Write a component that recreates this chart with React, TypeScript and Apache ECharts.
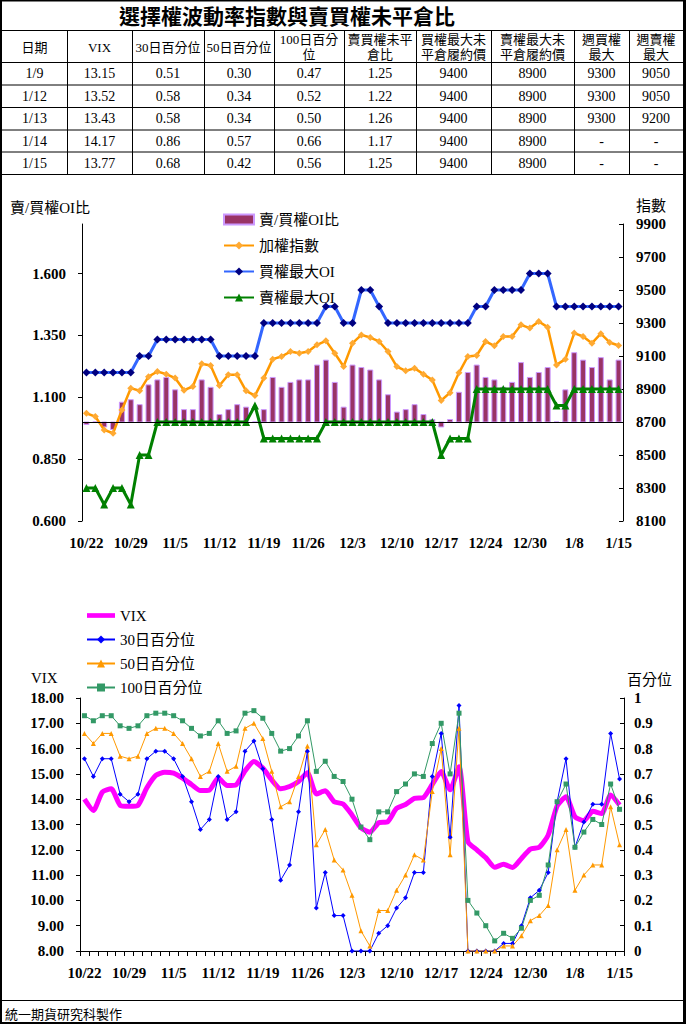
import React, { useEffect, useRef } from 'react';
import * as echarts from 'echarts';

// ---------- data ----------
const dates = ['10/22','10/23','10/24','10/27','10/28','10/29','10/30','10/31','11/3','11/4','11/5','11/6','11/7','11/10','11/11','11/12','11/13','11/14','11/17','11/18','11/19','11/20','11/21','11/24','11/25','11/26','11/27','11/28','12/1','12/2','12/3','12/4','12/5','12/8','12/9','12/10','12/11','12/12','12/15','12/16','12/17','12/18','12/19','12/22','12/23','12/24','12/25','12/26','12/27','12/29','12/30','12/31','1/5','1/6','1/7','1/8','1/9','1/12','1/13','1/14','1/15'];

const putCallRatio = [0.99,1.00,0.98,0.97,1.08,1.09,1.07,1.15,1.17,1.18, 1.13,1.05,1.05,1.17,1.14,1.03,1.05,1.07,1.06,1.00, 1.05,1.18,1.14,1.16,1.17,1.17,1.23,1.25,1.16,1.06, 1.23,1.22,1.21,1.17,1.11,1.04,1.05,1.07,1.03,1.01, 0.98,1.01,1.12,1.20,1.23,1.18,1.17,1.14,1.16,1.24, 1.18,1.20,1.22,1.00,1.13,1.28,1.25,1.22,1.26,1.17, 1.25];
const taiex = [8753,8733,8652,8632,8773,8905,8889,8975,9006,8990, 8966,8893,8915,9053,9042,8921,8986,8986,8889,8860, 8966,9081,9097,9127,9117,9127,9168,9192,9117,9036, 9178,9228,9212,9188,9127,9036,9010,9026,8990,8955, 8830,8878,8998,9097,9103,9188,9162,9218,9218,9289, 9269,9309,9275,9046,9081,9239,9218,9178,9235,9182, 9164];
const callMaxOI = [9000,9000,9000,9000,9000,9000,9100,9100,9200,9200, 9200,9200,9200,9200,9200,9100,9100,9100,9100,9100, 9300,9300,9300,9300,9300,9300,9300,9400,9400,9300, 9300,9500,9500,9400,9300,9300,9300,9300,9300,9300, 9300,9300,9300,9300,9400,9400,9500,9500,9500,9500, 9600,9600,9600,9400,9400,9400,9400,9400,9400,9400, 9400];
const putMaxOI = [8300,8300,8200,8300,8300,8200,8500,8500,8700,8700, 8700,8700,8700,8700,8700,8700,8700,8700,8700,8800, 8600,8600,8600,8600,8600,8600,8600,8700,8700,8700, 8700,8700,8700,8700,8700,8700,8700,8700,8700,8700, 8500,8600,8600,8600,8900,8900,8900,8900,8900,8900, 8900,8900,8900,8800,8800,8900,8900,8900,8900,8900, 8900];

const vix = [14.00,13.55,14.28,14.41,13.76,13.72,13.76,14.45,14.94,15.07, 15.03,14.83,14.58,14.34,14.36,14.84,14.54,14.57,15.12,15.49, 15.23,14.76,14.41,14.50,14.70,15.05,14.21,14.33,13.90,13.81, 13.38,12.87,12.69,13.07,13.11,13.64,13.79,14.03,14.06,14.58, 15.09,14.37,15.28,12.32,12.00,11.69,11.31,11.43,11.30,11.66, 12.03,12.10,12.58,13.73,14.10,13.31,13.15,13.52,13.43,14.17, 13.77];
const pct30 = [0.76,0.69,0.76,0.76,0.62,0.59,0.62,0.76,0.79,0.79, 0.76,0.69,0.59,0.48,0.52,0.69,0.52,0.55,0.79,0.83, 0.72,0.52,0.28,0.34,0.55,0.79,0.17,0.31,0.14,0.14, 0.00,0.00,0.00,0.07,0.10,0.17,0.21,0.31,0.31,0.69, 0.86,0.45,0.97,0.00,0.00,0.00,0.00,0.03,0.03,0.10, 0.21,0.24,0.31,0.59,0.76,0.41,0.51,0.58,0.58,0.86, 0.68];
const pct50 = [0.86,0.82,0.86,0.86,0.77,0.76,0.77,0.86,0.88,0.88, 0.86,0.82,0.76,0.69,0.71,0.82,0.71,0.73,0.88,0.90, 0.84,0.71,0.57,0.59,0.69,0.81,0.42,0.48,0.36,0.32, 0.22,0.08,0.02,0.16,0.16,0.24,0.30,0.38,0.36,0.63, 0.80,0.38,0.88,0.00,0.00,0.00,0.00,0.02,0.02,0.06, 0.12,0.14,0.18,0.40,0.48,0.24,0.30,0.34,0.34,0.57, 0.42];
const pct100 = [0.93,0.91,0.93,0.93,0.89,0.88,0.89,0.93,0.94,0.94, 0.93,0.91,0.88,0.85,0.86,0.91,0.86,0.87,0.94,0.95, 0.92,0.86,0.79,0.80,0.85,0.91,0.71,0.75,0.69,0.67, 0.60,0.49,0.44,0.55,0.55,0.63,0.66,0.70,0.69,0.82, 0.90,0.70,0.94,0.20,0.15,0.10,0.04,0.07,0.05,0.09, 0.20,0.22,0.34,0.59,0.66,0.41,0.47,0.52,0.50,0.66, 0.56];

const ratioTicks = [0.6, 0.85, 1.1, 1.35, 1.6];
const ratioBase = 1.0;

// table
const tableTitle = '選擇權波動率指數與賣買權未平倉比';
const tableHeaders = ['日期','VIX','30日百分位','50日百分位','100日百分\n位','賣買權未平\n倉比','買權最大未\n平倉履約價','賣權最大未\n平倉履約價','週買權\n最大','週賣權\n最大'];
const tableDates = ['1/9','1/12','1/13','1/14','1/15'];
const tableVix = ['13.15','13.52','13.43','14.17','13.77'];
const table30 = ['0.51','0.58','0.58','0.86','0.68'];
const table50 = ['0.30','0.34','0.34','0.57','0.42'];
const table100 = ['0.47','0.52','0.50','0.66','0.56'];
const tablePcr = ['1.25','1.22','1.26','1.17','1.25'];
const tableCallStrike = ['9400','9400','9400','9400','9400'];
const tablePutStrike = ['8900','8900','8900','8900','8900'];
const tableWeeklyCall = ['9300','9300','9300','-','-'];
const tableWeeklyPut = ['9050','9050','9200','-','-'];
const footerText = '統一期貨研究科製作';

const SERIF = "'Liberation Serif', 'Times New Roman', 'Noto Sans CJK TC', serif";

function buildOption(): any {
  const colX = [2, 67, 132, 204, 274, 344, 416, 491, 574, 629, 683];
  const rowY = [0, 30, 62, 84.5, 107, 129.5, 151.5, 174];
  const g: any[] = [];
  for (let i = 1; i < rowY.length; i++) {
    g.push({ type: 'line', silent: true, shape: { x1: 2, y1: rowY[i] + 0.5, x2: 683, y2: rowY[i] + 0.5 }, style: { stroke: '#000', lineWidth: 1 } });
  }
  for (let c = 1; c < colX.length - 1; c++) {
    g.push({ type: 'line', silent: true, shape: { x1: colX[c] + 0.5, y1: rowY[1], x2: colX[c] + 0.5, y2: rowY[rowY.length - 1] }, style: { stroke: '#000', lineWidth: 1 } });
  }
  g.push({ type: 'text', silent: true, x: 287, y: 15, style: { text: tableTitle, fill: '#000', fontSize: 21, fontWeight: 'bold', fontFamily: "'Noto Sans CJK TC', sans-serif", align: 'center', verticalAlign: 'middle' } });
  const cols = [tableDates, tableVix, table30, table50, table100, tablePcr, tableCallStrike, tablePutStrike, tableWeeklyCall, tableWeeklyPut];
  for (let c = 0; c < tableHeaders.length; c++) {
    const cx = (colX[c] + colX[c + 1]) / 2;
    g.push({ type: 'text', silent: true, x: cx, y: 47, style: { text: tableHeaders[c], fill: '#000', fontSize: 13, lineHeight: 15, fontFamily: SERIF, align: 'center', verticalAlign: 'middle' } });
    cols[c].forEach((t, r) => {
      const cy = (rowY[2 + r] + rowY[3 + r]) / 2 + 0.5;
      g.push({ type: 'text', silent: true, x: cx, y: cy, style: { text: t, fill: '#000', fontSize: 14, fontFamily: SERIF, align: 'center', verticalAlign: 'middle' } });
    });
  }
  const axisTitle = (text: string, x: number, y: number) => ({ type: 'text', silent: true, x, y, style: { text, fill: '#000', fontSize: 15, fontFamily: SERIF, align: 'left', verticalAlign: 'middle' } });
  g.push(axisTitle('賣/買權OI比', 10, 208));
  g.push(axisTitle('指數', 636, 206));
  g.push(axisTitle('VIX', 31, 678));
  g.push(axisTitle('百分位', 627, 680));
  g.push({ type: 'line', silent: true, shape: { x1: 2, y1: 1000.5, x2: 683, y2: 1000.5 }, style: { stroke: '#000', lineWidth: 1 } });
  g.push({ type: 'text', silent: true, x: 5, y: 1013, style: { text: footerText, fill: '#000', fontSize: 13, fontFamily: "'Noto Sans CJK TC', sans-serif", align: 'left', verticalAlign: 'middle' } });
  g.push({ type: 'rect', silent: true, z: 100, shape: { x: 0, y: 0, width: 2, height: 1024 }, style: { fill: '#000' } });
  g.push({ type: 'rect', silent: true, z: 100, shape: { x: 683, y: 0, width: 3, height: 1024 }, style: { fill: '#000' } });
  g.push({ type: 'rect', silent: true, z: 100, shape: { x: 0, y: 0, width: 686, height: 1.5 }, style: { fill: '#000' } });
  g.push({ type: 'rect', silent: true, z: 100, shape: { x: 0, y: 1022, width: 686, height: 2 }, style: { fill: '#000' } });

  const labelStyle = { color: '#000', fontSize: 15, fontWeight: 'bold', fontFamily: SERIF };
  const axisLine = { show: true, lineStyle: { color: '#000', width: 1 } };

  return {
    animation: false,
    backgroundColor: '#fff',
    graphic: { elements: g },
    legend: [
      {
        orient: 'vertical', left: 223, top: 212, padding: 0, itemWidth: 30, itemHeight: 10, itemGap: 11,
        textStyle: { color: '#000', fontSize: 15, lineHeight: 15, fontFamily: SERIF },
        data: [{ name: '賣/買權OI比', icon: 'rect' }, '加權指數', '買權最大OI', '賣權最大OI'],
      },
      {
        orient: 'vertical', left: 86, top: 608, padding: 0, itemWidth: 28, itemHeight: 10, itemGap: 9,
        textStyle: { color: '#000', fontSize: 15, lineHeight: 15, fontFamily: SERIF },
        data: [{ name: 'VIX', icon: 'path://M0,0 L30,0 L30,5 L0,5 Z' }, '30日百分位', '50日百分位', '100日百分位'],
      },
    ],
    grid: [
      { left: 82, top: 224, width: 541, height: 297 },
      { left: 80, top: 698, width: 544, height: 253 },
    ],
    xAxis: [
      {
        gridIndex: 0, type: 'category', data: dates, boundaryGap: true,
        axisLine: { show: false }, axisTick: { show: false },
        axisLabel: { ...labelStyle, interval: 4, margin: 14 },
      },
      {
        gridIndex: 1, type: 'category', data: dates, boundaryGap: true,
        axisLine, axisTick: { show: true, interval: 0, length: 5, lineStyle: { color: '#000' } },
        axisLabel: { ...labelStyle, interval: 4, margin: 14 },
      },
    ],
    yAxis: [
      {
        gridIndex: 0, type: 'value', position: 'left', min: 0.6, max: 1.8,
        axisLine, splitLine: { show: false },
        axisTick: { show: true, length: 4, customValues: ratioTicks, lineStyle: { color: '#000' } },
        axisLabel: { ...labelStyle, margin: 16, customValues: ratioTicks, formatter: (v: number) => v.toFixed(3) },
      },
      {
        gridIndex: 0, type: 'value', position: 'right', min: 8100, max: 9900, interval: 200,
        axisLine, splitLine: { show: false },
        axisTick: { show: true, inside: true, length: 4, lineStyle: { color: '#000' } },
        axisLabel: { ...labelStyle, margin: 13, formatter: (v: number) => String(v) },
      },
      {
        gridIndex: 1, type: 'value', position: 'left', min: 8, max: 18, interval: 1,
        axisLine, splitLine: { show: false },
        axisTick: { show: true, length: 4, lineStyle: { color: '#000' } },
        axisLabel: { ...labelStyle, margin: 16, formatter: (v: number) => v.toFixed(2) },
      },
      {
        gridIndex: 1, type: 'value', position: 'right', min: 0, max: 1, interval: 0.1,
        axisLine, splitLine: { show: false },
        axisTick: { show: true, inside: true, length: 4, lineStyle: { color: '#000' } },
        axisLabel: { ...labelStyle, margin: 10, formatter: (v: number) => String(Number(v.toFixed(1))) },
      },
    ],
    series: [
      {
        name: '賣/買權OI比', type: 'custom', xAxisIndex: 0, yAxisIndex: 0,
        itemStyle: { color: '#993366', borderColor: '#cc99ff', borderWidth: 1 },
        encode: { x: 0, y: 1 },
        data: putCallRatio.map((v, i) => [i, v]),
        renderItem: (params: any, api: any) => {
          const idx = api.value(0);
          const v = api.value(1);
          const base = api.coord([idx, ratioBase]);
          const top = api.coord([idx, v]);
          const w = 5;
          return {
            type: 'rect',
            shape: { x: base[0] - w / 2, y: Math.min(base[1], top[1]), width: w, height: Math.abs(top[1] - base[1]) },
            style: { fill: '#993366', stroke: '#cc99ff', lineWidth: 1 },
          };
        },
      },
      {
        name: '加權指數', type: 'line', xAxisIndex: 0, yAxisIndex: 1, data: taiex,
        showAllSymbol: true, symbol: 'diamond', symbolSize: 7,
        lineStyle: { color: '#ff9900', width: 2.5 }, itemStyle: { color: '#ffaa33' },
      },
      {
        name: '買權最大OI', type: 'line', xAxisIndex: 0, yAxisIndex: 1, data: callMaxOI,
        showAllSymbol: true, symbol: 'diamond', symbolSize: 8,
        lineStyle: { color: '#3366ff', width: 3 }, itemStyle: { color: '#000080' },
      },
      {
        name: '賣權最大OI', type: 'line', xAxisIndex: 0, yAxisIndex: 1, data: putMaxOI,
        showAllSymbol: true, symbol: 'triangle', symbolSize: 8,
        lineStyle: { color: '#008000', width: 3 }, itemStyle: { color: '#008000' },
        markLine: {
          silent: true, symbol: 'none', label: { show: false },
          lineStyle: { color: '#000', width: 1, type: 'solid' },
          data: [{ yAxis: 8700 }],
        },
      },
      {
        name: 'VIX', type: 'line', xAxisIndex: 1, yAxisIndex: 2, data: vix,
        symbol: 'none', smooth: 0.2,
        lineStyle: { color: '#ff00ff', width: 5 }, itemStyle: { color: '#ff00ff' },
      },
      {
        name: '30日百分位', type: 'line', xAxisIndex: 1, yAxisIndex: 3, data: pct30,
        showAllSymbol: true, symbol: 'diamond', symbolSize: 5,
        lineStyle: { color: '#0000ff', width: 1 }, itemStyle: { color: '#0000ff' },
      },
      {
        name: '50日百分位', type: 'line', xAxisIndex: 1, yAxisIndex: 3, data: pct50,
        showAllSymbol: true, symbol: 'triangle', symbolSize: 5,
        lineStyle: { color: '#ff9900', width: 1 }, itemStyle: { color: '#ff9900' },
      },
      {
        name: '100日百分位', type: 'line', xAxisIndex: 1, yAxisIndex: 3, data: pct100,
        showAllSymbol: true, symbol: 'rect', symbolSize: 5,
        lineStyle: { color: '#339966', width: 1 }, itemStyle: { color: '#339966' },
      },
    ],
  };
}

export default function App() {
  const ref = useRef<HTMLDivElement>(null);
  useEffect(() => {
    if (!ref.current) return;
    const chart = echarts.init(ref.current, undefined, { renderer: 'svg' });
    chart.setOption(buildOption());
    return () => chart.dispose();
  }, []);
  return <div ref={ref} style={{ position: 'absolute', left: 0, top: 0, width: 686, height: 1024 }} />;
}
